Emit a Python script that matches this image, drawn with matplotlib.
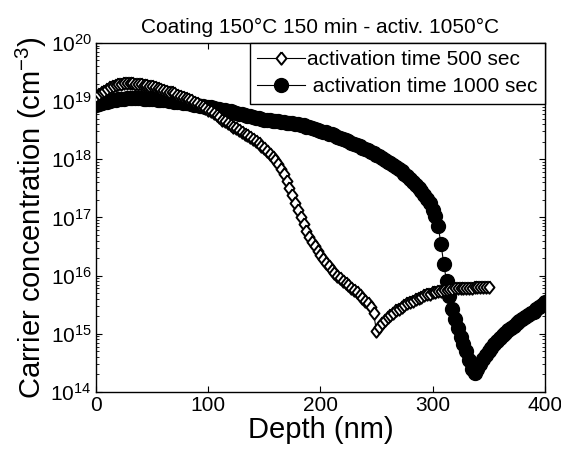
import numpy as np
import matplotlib
matplotlib.use("Agg")
import matplotlib.pyplot as plt
from matplotlib.ticker import LogLocator, NullFormatter, NullLocator

plt.rcParams["font.family"] = ["Liberation Sans", "DejaVu Sans"]
plt.rcParams["mathtext.fontset"] = "custom"
plt.rcParams["mathtext.rm"] = "Liberation Sans"
plt.rcParams["mathtext.it"] = "Liberation Sans:italic"

# depth grid [nm], 2.5 nm steps
depth_500 = np.arange(0, 350.1, 2.5)
depth_1000 = np.arange(0, 400.1, 2.5)

# log10 of carrier concentration [cm^-3]
log_n_500 = [
    19.08, 19.12, 19.15, 19.18, 19.21, 19.24, 19.26, 19.28, 19.29, 19.30,
    19.31, 19.31, 19.31, 19.31, 19.30, 19.30, 19.29, 19.28, 19.27, 19.26,
    19.25, 19.24, 19.22, 19.21, 19.19, 19.18, 19.16, 19.15, 19.13, 19.11,
    19.09, 19.07, 19.05, 19.03, 19.01, 18.98, 18.96, 18.93, 18.91, 18.88,
    18.85, 18.82, 18.79, 18.76, 18.72, 18.68, 18.65, 18.62, 18.59, 18.56,
    18.53, 18.50, 18.47, 18.44, 18.41, 18.38, 18.34, 18.31, 18.27, 18.23,
    18.19, 18.14, 18.09, 18.04, 17.98, 17.91, 17.83, 17.74, 17.63, 17.51,
    17.38, 17.25, 17.12, 17.00, 16.88, 16.77, 16.67, 16.58, 16.50, 16.42,
    16.35, 16.28, 16.22, 16.16, 16.10, 16.05, 16.00, 15.95, 15.91, 15.87,
    15.83, 15.79, 15.75, 15.71, 15.67, 15.62, 15.57, 15.52, 15.46, 15.35,
    15.05, 15.12, 15.18, 15.23, 15.28, 15.32, 15.36, 15.40, 15.43, 15.46,
    15.49, 15.52, 15.55, 15.57, 15.60, 15.62, 15.64, 15.66, 15.68, 15.69,
    15.71, 15.72, 15.73, 15.74, 15.75, 15.76, 15.77, 15.77, 15.78, 15.78,
    15.78, 15.79, 15.79, 15.79, 15.79, 15.80, 15.80, 15.80, 15.80, 15.80,
    15.80,
]
log_n_1000 = [
    18.93, 18.95, 18.97, 18.98, 18.99, 19.00, 19.01, 19.02, 19.03, 19.04,
    19.04, 19.05, 19.05, 19.05, 19.05, 19.05, 19.05, 19.04, 19.04, 19.04,
    19.03, 19.03, 19.02, 19.02, 19.01, 19.01, 19.00, 19.00, 18.99, 18.98,
    18.98, 18.97, 18.96, 18.96, 18.95, 18.94, 18.93, 18.92, 18.91, 18.90,
    18.90, 18.89, 18.88, 18.87, 18.86, 18.85, 18.84, 18.83, 18.82, 18.81,
    18.80, 18.78, 18.77, 18.76, 18.75, 18.74, 18.72, 18.71, 18.70, 18.69,
    18.68, 18.68, 18.67, 18.66, 18.66, 18.65, 18.64, 18.64, 18.63, 18.62,
    18.62, 18.61, 18.60, 18.59, 18.58, 18.56, 18.55, 18.53, 18.52, 18.50,
    18.49, 18.47, 18.46, 18.44, 18.43, 18.41, 18.39, 18.37, 18.35, 18.33,
    18.31, 18.28, 18.26, 18.24, 18.22, 18.20, 18.17, 18.15, 18.12, 18.10,
    18.07, 18.05, 18.02, 17.99, 17.96, 17.93, 17.90, 17.86, 17.83, 17.79,
    17.75, 17.71, 17.66, 17.61, 17.56, 17.51, 17.45, 17.39, 17.32, 17.24,
    17.13, 17.02, 16.85, 16.55, 16.20, 15.90, 15.65, 15.43, 15.25, 15.10,
    14.95, 14.82, 14.70, 14.55, 14.40, 14.32, 14.40, 14.48, 14.56, 14.63,
    14.70, 14.76, 14.82, 14.88, 14.93, 14.98, 15.02, 15.06, 15.10, 15.14,
    15.18, 15.22, 15.26, 15.29, 15.32, 15.35, 15.38, 15.42, 15.46, 15.50,
    15.54,
]

title = "Coating 150°C 150 min - activ. 1050°C"
labels = ["activation time 500 sec", " activation time 1000 sec"]
x_ticks = [0, 100, 200, 300, 400]

# slightly tall diamond, like the original marker
diamond = [(0, 1), (0.8, 0), (0, -1), (-0.8, 0), (0, 1)]

fig = plt.figure(figsize=(5.61, 4.51), dpi=100)
ax = fig.add_axes([0.171, 0.131, 0.800, 0.774])

l1, = ax.plot(depth_500, 10 ** np.array(log_n_500), "-", color="k", lw=0.8,
              marker=diamond, ms=9, mfc="white", mec="k", mew=1.4, zorder=3)
l2, = ax.plot(depth_1000, 10 ** np.array(log_n_1000), "-", color="k", lw=0.8,
              marker="o", ms=10, mfc="k", mec="k", zorder=2)

ax.set_yscale("log")
ax.set_xlim(0, 400)
ax.set_ylim(1e14, 1e20)
ax.set_xticks(x_ticks)
ax.xaxis.set_minor_locator(NullLocator())
ax.yaxis.set_major_locator(LogLocator(base=10, numticks=10))
ax.yaxis.set_minor_locator(LogLocator(base=10, subs=np.arange(2, 10), numticks=20))
ax.yaxis.set_minor_formatter(NullFormatter())
ax.tick_params(which="both", direction="in", top=True, right=True, labelsize=15)
ax.tick_params(which="major", length=4, width=0.8, pad=3)
ax.tick_params(which="minor", length=2, width=0.6)
for s in ax.spines.values():
    s.set_linewidth(1.0)

ax.set_xlabel("Depth (nm)", fontsize=21, labelpad=1)
ax.set_ylabel("Carrier concentration (cm$^{-3}$)", fontsize=21, labelpad=1)
ax.set_title(title, fontsize=15, pad=7)

leg = ax.legend([l1, l2], labels, loc="upper right", fontsize=15,
                borderaxespad=0, fancybox=False, edgecolor="k",
                handlelength=2.3, handletextpad=0.1, borderpad=0.35,
                labelspacing=0.4, framealpha=1)
leg.get_frame().set_linewidth(1.0)

fig.savefig("out.png", dpi=100)
